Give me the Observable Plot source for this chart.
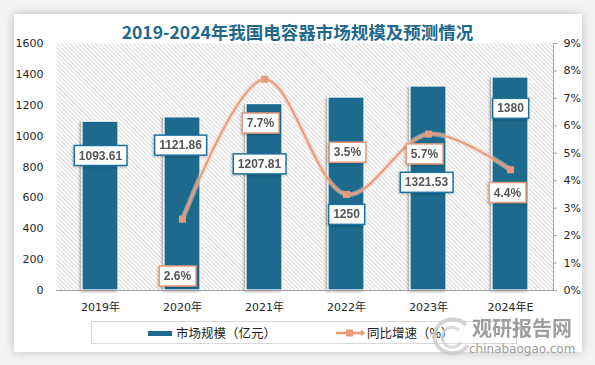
<!DOCTYPE html>
<html><head><meta charset="utf-8">
<script src="https://cdn.jsdelivr.net/npm/d3@7"></script>
<script src="https://cdn.jsdelivr.net/npm/@observablehq/plot@0.6"></script>
<style>
html,body{margin:0;padding:0;}
body{background:#f3f3f3;width:595px;height:365px;overflow:hidden;position:relative;font-family:"Noto Sans CJK SC",sans-serif;}
#card{position:absolute;left:14px;top:14px;width:568px;height:338px;background:#fff;box-shadow:0 0 9px rgba(0,0,0,0.22);}
#title{position:absolute;left:0;width:595px;top:21px;text-align:center;font-weight:bold;font-size:17.5px;font-family:"Noto Sans CJK SC",sans-serif;color:#21688c;line-height:22px;white-space:nowrap;}
#chart{position:absolute;left:0;top:0;}
#legend{position:absolute;left:91px;top:321px;width:426px;height:23px;border:1px solid #dadada;box-sizing:border-box;}
.lg{position:absolute;font-size:12.5px;color:#222;line-height:16px;white-space:nowrap;}
#wm{position:absolute;left:469px;top:319px;white-space:nowrap;line-height:17px;}
#wm .a{display:inline-block;margin-left:3px;font-size:20px;font-weight:bold;color:#8e8e8e;opacity:.85;}
#wm .b{display:inline-block;font-size:12px;font-family:"DejaVu Sans",sans-serif;color:#9c9c9c;line-height:13px;margin-top:3px;}
#logo{position:absolute;left:428px;top:315px;}
</style></head><body>
<div id="card"></div>
<div id="title"></div>
<div id="chart"></div>
<div id="legend"></div>
<div id="items"></div>
<svg id="logo" width="46" height="42" viewBox="0 0 46 42">
  <path d="M38 10 A18 17 0 1 0 40 30" fill="none" stroke="#c9c9c9" stroke-width="4" opacity="0.8"/>
  <path d="M31 15 A10 10 0 1 0 33 27" fill="none" stroke="#d2d2d2" stroke-width="3" opacity="0.8"/>
</svg>
<div id="wm"><span class="a">观研报告网</span><br><span class="b">chinabaogao.com</span></div>
<script>
// ---- data ----
const titleText = "2019-2024年我国电容器市场规模及预测情况";
const years = ["2019年","2020年","2021年","2022年","2023年","2024年E"];
const marketSize = [1093.61, 1121.86, 1207.81, 1250, 1321.53, 1380];
const growthRate = [null, 2.6, 7.7, 3.5, 5.7, 4.4];
const leftTicks = [0,200,400,600,800,1000,1200,1400,1600];
const rightTicks = [0,1,2,3,4,5,6,7,8,9];
const legendLabels = ["市场规模（亿元）","同比增速（%）"];

// ---- layout (label offsets in pixels) ----
const marketLabelDx = [0,-2,-5,0,-2,0];
const marketLabelDy = [34,28,60,117,96,31];
const growthLabelDx = [0,-5,-4,1,-4,-3];
const growthLabelDy = [0,57,44,-42,20,23];

const yMax = 1600, pMax = 9;
const toLeft = p => p * yMax / pMax;
const BLUE = "#1d6a8d", SALMON = "#e99b79";
const tickFont = '"DejaVu Sans","Noto Sans CJK SC",sans-serif';
const labelFont = '"Liberation Sans",Arial,sans-serif';

document.getElementById("title").textContent = titleText;

const rows = years.map((year,i)=>({year, size: marketSize[i], rate: growthRate[i], i}));
const lineRows = rows.filter(d => d.rate != null);

const marks = [
  Plot.frame({fill:"url(#hatch)", stroke:null}),
  Plot.barY(rows, {x:"year", y:"size", fill:BLUE, stroke:"#fff", strokeWidth:1.2, ariaDescription:"bars"}),
  Plot.ruleY([0], {stroke:"#a3a3a3"}),
  Plot.frame({anchor:"right", stroke:"#a3a3a3"}),
  Plot.axisY({ticks:leftTicks, tickSize:0, tickPadding:13, label:null, tickFormat:d=>String(d)}),
  Plot.axisY({anchor:"right", ticks:rightTicks.map(toLeft), tickFormat:d=>Math.round(d*pMax/yMax)+"%", tickSize:3, tickPadding:7, stroke:"#a3a3a3", label:null}),
  Plot.axisX({tickSize:0, tickPadding:13, label:null}),
  Plot.line(lineRows, {x:"year", y:d=>toLeft(d.rate), stroke:"#f4c9b4", strokeWidth:5, strokeOpacity:0.55, curve:"catmull-rom"}),
  Plot.line(lineRows, {x:"year", y:d=>toLeft(d.rate), stroke:SALMON, strokeWidth:2, curve:"catmull-rom"}),
  Plot.dot(lineRows, {x:"year", y:d=>toLeft(d.rate), symbol:"square", r:4, fill:SALMON, stroke:null}),
  ...rows.map(d => Plot.text([d], {x:"year", y:"size", text:d=>String(d.size),
      dx:marketLabelDx[d.i], dy:marketLabelDy[d.i], ariaDescription:"market-label",
      fontFamily:labelFont, fontSize:12, fontWeight:"bold", fill:"#555555"})),
  ...lineRows.map(d => Plot.text([d], {x:"year", y:d=>toLeft(d.rate), text:d=>d.rate.toFixed(1)+"%",
      dx:growthLabelDx[d.i], dy:growthLabelDy[d.i], ariaDescription:"growth-label",
      fontFamily:labelFont, fontSize:12, fontWeight:"bold", fill:"#555555"}))
];

const svg = Plot.plot({
  width:595, height:320,
  marginTop:43, marginBottom:30, marginLeft:56, marginRight:42,
  x:{domain:years, paddingInner:0.565, paddingOuter:0.2825},
  y:{domain:[0,yMax]},
  style:{background:"transparent", fontFamily:tickFont, fontSize:"11px", color:"#262626", overflow:"visible"},
  marks
});
document.getElementById("chart").append(svg);

const ns = "http://www.w3.org/2000/svg";
const defs = document.createElementNS(ns, "defs");
defs.innerHTML = `
<pattern id="hatch" patternUnits="userSpaceOnUse" width="3" height="3" patternTransform="rotate(-45)">
  <rect width="3" height="3" fill="#ffffff"/>
  <line x1="0.5" y1="0" x2="0.5" y2="3" stroke="#d9d9d9" stroke-width="1"/>
</pattern>
<filter id="barShadow" x="-30%" y="-10%" width="160%" height="120%">
  <feDropShadow dx="-1.5" dy="1" stdDeviation="1.3" flood-color="#000" flood-opacity="0.35"/>
</filter>
<filter id="lblShadow" x="-20%" y="-30%" width="140%" height="160%">
  <feDropShadow dx="-1" dy="1" stdDeviation="1" flood-color="#000" flood-opacity="0.25"/>
</filter>`;
svg.insertBefore(defs, svg.firstChild);

const bars = svg.querySelector('g[aria-description="bars"]');
if (bars) bars.setAttribute("filter","url(#barShadow)");

svg.querySelectorAll('g[aria-description="market-label"], g[aria-description="growth-label"]').forEach(g => {
  const isM = g.getAttribute("aria-description") === "market-label";
  g.querySelectorAll("text").forEach(t => {
    const bb = t.getBBox();
    const r = document.createElementNS(ns, "rect");
    const cy = bb.y + bb.height/2;
    r.setAttribute("x", bb.x - 4.5);
    r.setAttribute("y", cy - 10);
    r.setAttribute("width", bb.width + 9);
    r.setAttribute("height", 20);
    r.setAttribute("fill", "#fff");
    r.setAttribute("stroke", isM ? "#1f73a0" : "#e69a78");
    r.setAttribute("stroke-width", 1.5);
    const tr = t.getAttribute("transform");
    if (tr) r.setAttribute("transform", tr);
    t.parentNode.insertBefore(r, t);
  });
  g.setAttribute("filter","url(#lblShadow)");
});

// ---- legend ----
const items = document.getElementById("items");
items.innerHTML = `
<div style="position:absolute;left:148px;top:331px;width:24px;height:5px;background:${BLUE}"></div>
<div class="lg" style="left:176px;top:325px">${legendLabels[0]}</div>
<svg style="position:absolute;left:336px;top:327px" width="30" height="12">
  <line x1="0" y1="6" x2="26" y2="6" stroke="${SALMON}" stroke-width="2.5"/>
  <rect x="10" y="2.5" width="7" height="7" fill="${SALMON}"/>
  <path d="M26 3 L29 6 L26 9 L23 6 Z" fill="${SALMON}"/>
</svg>
<div class="lg" style="left:367px;top:325px">${legendLabels[1]}</div>`;
</script>
</body></html>
